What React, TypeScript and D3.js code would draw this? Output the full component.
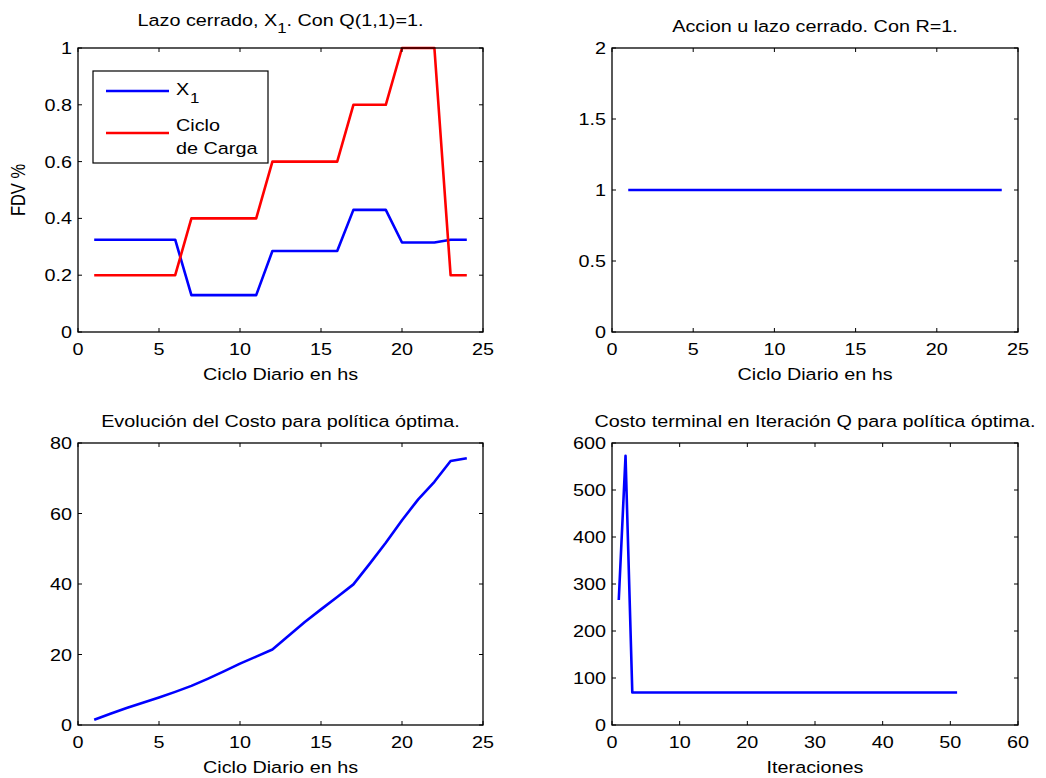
import React from "react";
import * as d3 from "d3";

const HOURS = [1, 2, 3, 4, 5, 6, 7, 8, 9, 10, 11, 12, 13, 14, 15, 16, 17, 18, 19, 20, 21, 22, 23, 24];
const X1 = [0.325, 0.325, 0.325, 0.325, 0.325, 0.325, 0.13, 0.13, 0.13, 0.13, 0.13, 0.285, 0.285, 0.285, 0.285, 0.285, 0.43, 0.43, 0.43, 0.315, 0.315, 0.315, 0.325, 0.325];
const CICLO = [0.2, 0.2, 0.2, 0.2, 0.2, 0.2, 0.4, 0.4, 0.4, 0.4, 0.4, 0.6, 0.6, 0.6, 0.6, 0.6, 0.8, 0.8, 0.8, 1, 1, 1, 0.2, 0.2];
const ACCION = [1, 1, 1, 1, 1, 1, 1, 1, 1, 1, 1, 1, 1, 1, 1, 1, 1, 1, 1, 1, 1, 1, 1, 1];
const COSTO = [1.5, 3.2, 4.8, 6.3, 7.8, 9.4, 11.1, 13.1, 15.2, 17.4, 19.4, 21.4, 25.3, 29.2, 32.8, 36.3, 39.9, 45.7, 51.7, 58.1, 64.0, 69.0, 74.9, 75.7];
const ITER = [1, 2, 3, 4, 5, 6, 7, 8, 9, 10, 11, 12, 13, 14, 15, 16, 17, 18, 19, 20, 21, 22, 23, 24, 25, 26, 27, 28, 29, 30, 31, 32, 33, 34, 35, 36, 37, 38, 39, 40, 41, 42, 43, 44, 45, 46, 47, 48, 49, 50, 51];
const TERMINAL = [266, 573, 69, 69, 69, 69, 69, 69, 69, 69, 69, 69, 69, 69, 69, 69, 69, 69, 69, 69, 69, 69, 69, 69, 69, 69, 69, 69, 69, 69, 69, 69, 69, 69, 69, 69, 69, 69, 69, 69, 69, 69, 69, 69, 69, 69, 69, 69, 69, 69, 69];

const X_TICKS_24 = [0, 5, 10, 15, 20, 25];
const X_TICKS_60 = [0, 10, 20, 30, 40, 50, 60];
const Y_TICKS_1 = [0, 0.2, 0.4, 0.6, 0.8, 1];
const Y_TICKS_2 = [0, 0.5, 1, 1.5, 2];
const Y_TICKS_80 = [0, 20, 40, 60, 80];
const Y_TICKS_600 = [0, 100, 200, 300, 400, 500, 600];

const FONT = "'Liberation Sans', Arial, sans-serif";
const FS = 16.5;
const SX = 1.2;

function T({ x, y, anchor = "start", size = FS, rotate = false, children }: any) {
  return (
    <text
      transform={`translate(${x},${y}) scale(${SX},1)${rotate ? " rotate(-90)" : ""}`}
      textAnchor={anchor}
      fontSize={size}
      fontFamily={FONT}
      fill="#000"
    >
      {children}
    </text>
  );
}

function Panel({ box, xDomain, yDomain, xTicks, yTicks, series, title, xLabel, yLabel, titleY }: any) {
  const [l, r, t, b] = box;
  const x = d3.scaleLinear().domain(xDomain).range([l, r]);
  const y = d3.scaleLinear().domain(yDomain).range([b, t]);
  const tl = 4;
  return (
    <g>
      {series.map((s: any, i: number) => {
        const line = d3
          .line<number>()
          .x((_, k) => x(s.x[k]))
          .y((v) => y(v));
        return <path key={i} d={line(s.y) || ""} fill="none" stroke={s.color} strokeWidth={2.6} strokeLinejoin="round" />;
      })}
      <rect x={l} y={t} width={r - l} height={b - t} fill="none" stroke="#000" strokeWidth={1.3} />
      {xTicks.map((v: number) => (
        <g key={"x" + v}>
          <line x1={x(v)} x2={x(v)} y1={b} y2={b - tl} stroke="#000" strokeWidth={1} />
          <line x1={x(v)} x2={x(v)} y1={t} y2={t + tl} stroke="#000" strokeWidth={1} />
          <T x={x(v)} y={b + 23} anchor="middle">{String(v)}</T>
        </g>
      ))}
      {yTicks.map((v: number) => (
        <g key={"y" + v}>
          <line x1={l} x2={l + tl} y1={y(v)} y2={y(v)} stroke="#000" strokeWidth={1} />
          <line x1={r} x2={r - tl} y1={y(v)} y2={y(v)} stroke="#000" strokeWidth={1} />
          <T x={l - 6} y={y(v) + 6} anchor="end">{String(v)}</T>
        </g>
      ))}
      {xLabel && <T x={(l + r) / 2} y={b + 48} anchor="middle">{xLabel}</T>}
      {yLabel && <T x={19 + 6} y={(t + b) / 2} anchor="middle" rotate>{yLabel}</T>}
      {typeof title === "string" ? (
        <T x={(l + r) / 2} y={titleY ?? t - 16} anchor="middle">{title}</T>
      ) : (
        title
      )}
    </g>
  );
}

export default function App() {
  const TL = [78, 483, 48, 332];
  const TR = [612, 1018, 48, 332];
  const BL = [78, 483, 443, 725];
  const BR = [612, 1018, 443, 725];
  const tlTitle = (
    <text
      transform={`translate(${(TL[0] + TL[1]) / 2},26) scale(${SX},1)`}
      textAnchor="middle"
      fontSize={FS}
      fontFamily={FONT}
    >
      Lazo cerrado, X
      <tspan fontSize={14} dy={7}>1</tspan>
      <tspan dy={-7}>. Con Q(1,1)=1.</tspan>
    </text>
  );
  return (
    <svg width={1046} height={778} style={{ position: "absolute", left: 0, top: 0, background: "#fff" }}>
      <rect x={0} y={0} width={1046} height={778} fill="#fff" />
      <Panel
        box={TL}
        xDomain={[0, 25]}
        yDomain={[0, 1]}
        xTicks={X_TICKS_24}
        yTicks={Y_TICKS_1}
        series={[
          { x: HOURS, y: X1, color: "#0000ff" },
          { x: HOURS, y: CICLO, color: "#ff0000" },
        ]}
        title={tlTitle}
        xLabel="Ciclo Diario en hs"
        yLabel="FDV %"
      />
      <g>
        <rect x={93} y={71} width={175} height={92} fill="#fff" stroke="#000" strokeWidth={1.2} />
        <line x1={106} x2={169} y1={91} y2={91} stroke="#0000ff" strokeWidth={2.6} />
        <line x1={106} x2={169} y1={133} y2={133} stroke="#ff0000" strokeWidth={2.6} />
        <T x={176} y={95}>X</T>
        <T x={190} y={103} size={14}>1</T>
        <T x={176} y={131}>Ciclo</T>
        <T x={176} y={154}>de Carga</T>
      </g>
      <Panel
        box={TR}
        xDomain={[0, 25]}
        yDomain={[0, 2]}
        xTicks={X_TICKS_24}
        yTicks={Y_TICKS_2}
        series={[{ x: HOURS, y: ACCION, color: "#0000ff" }]}
        title="Accion u lazo cerrado. Con R=1."
        xLabel="Ciclo Diario en hs"
      />
      <Panel
        box={BL}
        xDomain={[0, 25]}
        yDomain={[0, 80]}
        xTicks={X_TICKS_24}
        yTicks={Y_TICKS_80}
        series={[{ x: HOURS, y: COSTO, color: "#0000ff" }]}
        title="Evolución del Costo para política óptima."
        xLabel="Ciclo Diario en hs"
      />
      <Panel
        box={BR}
        xDomain={[0, 60]}
        yDomain={[0, 600]}
        xTicks={X_TICKS_60}
        yTicks={Y_TICKS_600}
        series={[{ x: ITER, y: TERMINAL, color: "#0000ff" }]}
        title="Costo terminal en Iteración Q para política óptima."
        xLabel="Iteraciones"
      />
    </svg>
  );
}
